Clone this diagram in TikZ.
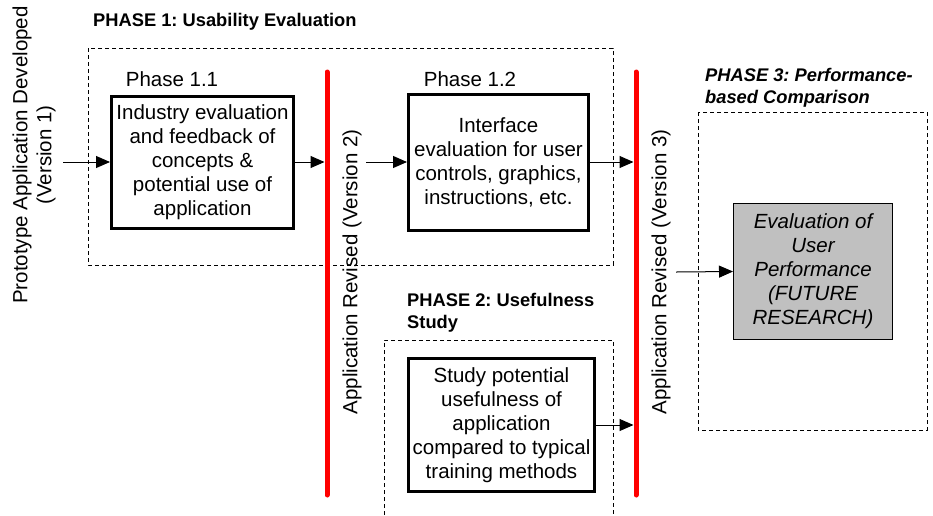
\documentclass[tikz,border=0pt]{standalone}
\usepackage{fontspec}
\setmainfont{Liberation Sans}
\usetikzlibrary{arrows.meta}
\frenchspacing

\begin{document}
\begin{tikzpicture}[x=1pt,y=-1pt,
  body/.style={font=\fontsize{20.5}{24}\selectfont, align=center, inner sep=0pt},
  titletext/.style={font=\fontsize{18.3}{22}\selectfont\bfseries, align=left, inner sep=0pt},
  stagebox/.style={draw, line width=3pt, body},
  phasebox/.style={draw, line width=0.8pt, dash pattern=on 4pt off 3pt},
  revline/.style={draw=red, line width=5pt, line cap=round},
  flow/.style={line width=1pt, -{Triangle[length=14pt,width=12pt]}},
  vlabel/.style={body, rotate=90}
]
\useasboundingbox (0,0) rectangle (933,515);

% phase frames
\draw[phasebox] (88,48) rectangle (613,265);
\draw[phasebox] (384,522) -- (384,340) -- (613,340) -- (613,522);
\draw[phasebox] (698,112) rectangle (927,430);

% phase titles
\node[titletext, anchor=base west] (t1) at (93,26.5) {PHASE 1: Usability Evaluation};
\node[titletext, anchor=north west] (t2) at (407,293.5) {PHASE 2: Usefulness\\Study};
\node[titletext, anchor=north west, font=\fontsize{18.3}{22}\selectfont\bfseries\itshape] (t3) at (705,68.5) {PHASE 3: Performance-\\based Comparison};

% sub-phase labels
\node[body] (l11) at (172,79) {Phase 1.1};
\node[body] (l12) at (470,79) {Phase 1.2};

% activity boxes
\node[stagebox, minimum width=182pt, minimum height=132pt] (b1) at (202.5,162.5)
  {Industry evaluation\\and feedback of\\concepts \&\\potential use of\\application};
\node[stagebox, minimum width=180pt, minimum height=136pt] (b2) at (498.5,162.5)
  {Interface\\evaluation for user\\controls, graphics,\\instructions, etc.};
\node[stagebox, minimum width=186pt, minimum height=133pt] (b4) at (501.5,425)
  {Study potential\\usefulness of\\application\\compared to typical\\training methods};
\node[draw, line width=1pt, fill={rgb,255:red,192;green,192;blue,192}, body,
  font=\fontsize{20.5}{24}\selectfont\itshape, minimum width=159pt, minimum height=136pt] (b3) at (813,271.5)
  {Evaluation of\\User\\Performance\\(FUTURE\\RESEARCH)};

% revision bars
\coordinate (r1top) at (327,72);
\coordinate (r1bot) at (327,495);
\coordinate (r2top) at (636,72);
\coordinate (r2bot) at (636,495);
\draw[revline] (r1top) -- (r1bot);
\draw[revline] (r2top) -- (r2bot);

% version labels
\node[vlabel] (v1) at (34,155) {Prototype Application Developed\\(Version 1)};
\node[vlabel] (v2) at (352,272) {Application Revised (Version 2)};
\node[vlabel] (v3) at (661,272) {Application Revised (Version 3)};

% flow arrows
\coordinate (s1) at (63,162);
\coordinate (s2) at (366,162);
\coordinate (s3) at (676,272);
\draw[flow] (s1) -- (b1.west |- s1);
\draw[flow, shorten >=2.5pt] (b1.east |- s1) -- (s1 -| r1top);
\draw[flow] (s2) -- (b2.west |- s2);
\draw[flow, shorten >=2.5pt] (b2.east |- s2) -- (s2 -| r2top);
\draw[flow, shorten >=2.5pt] (b4.east) -- (b4.east -| r2top);
\draw[flow] (s3) -- (b3.west);
\end{tikzpicture}
\end{document}
